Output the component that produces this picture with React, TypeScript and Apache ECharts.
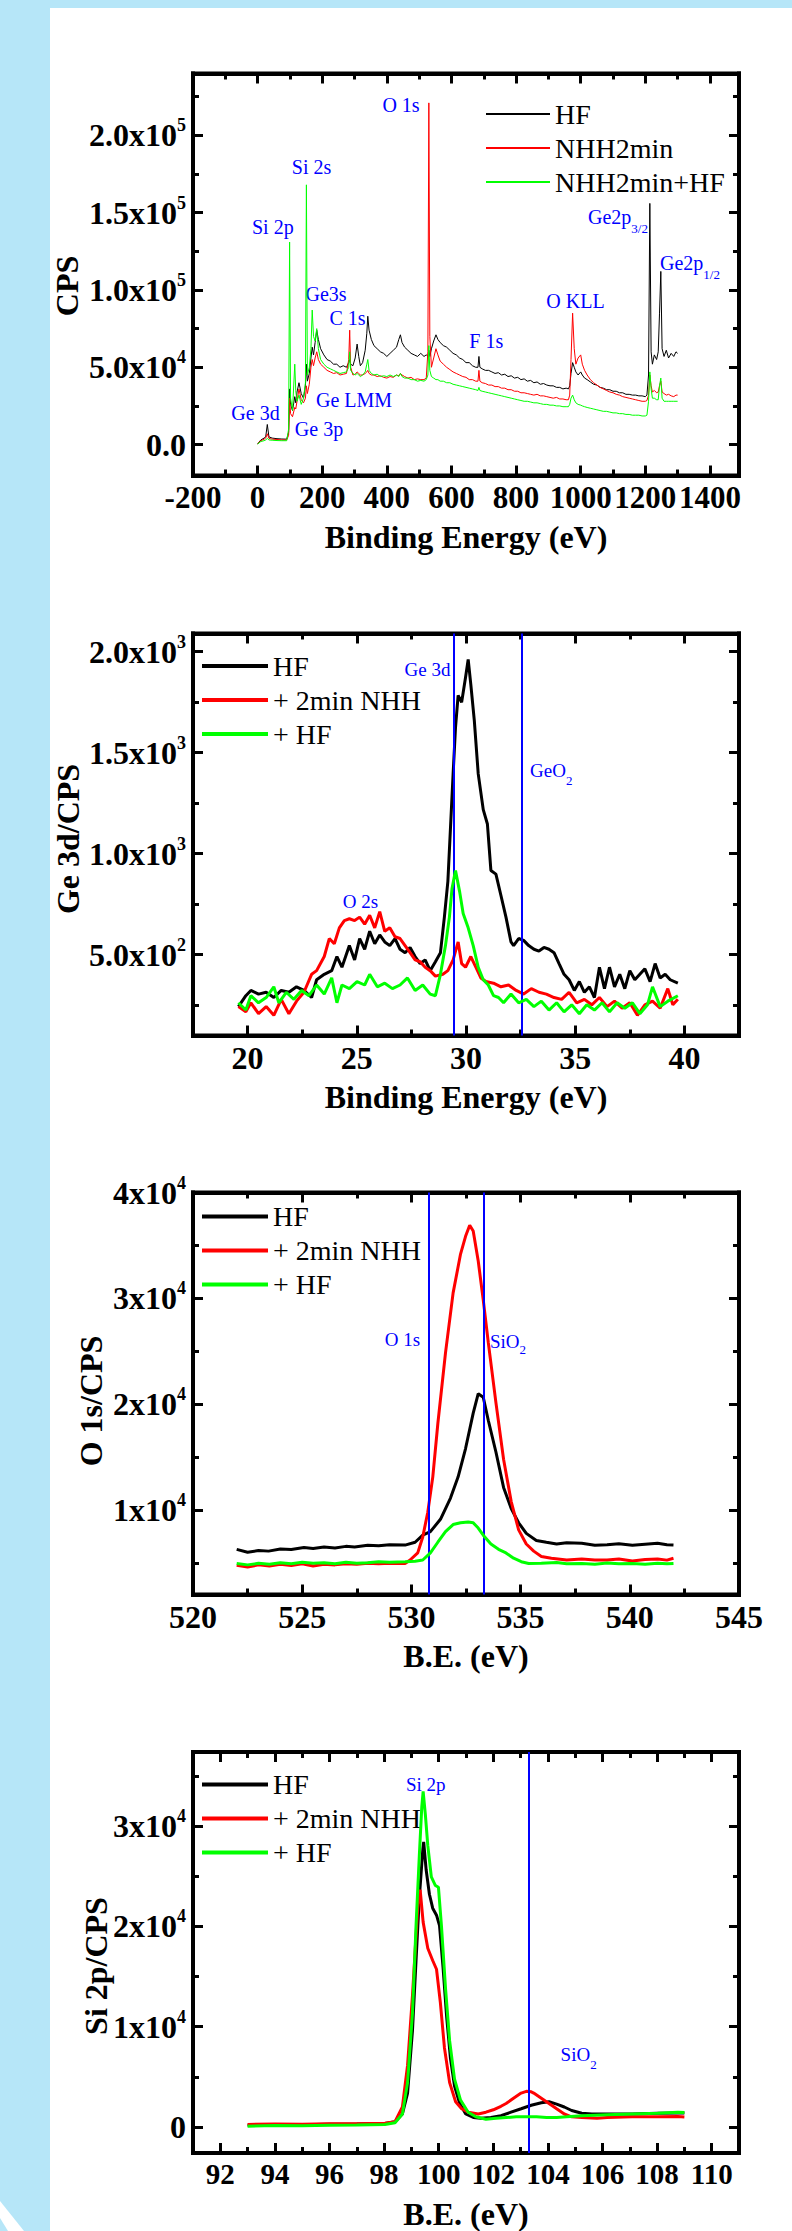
import React, { useEffect, useRef } from "react";
import * as echarts from "echarts";

const FONT = '"Liberation Serif", "Times New Roman", serif';
const BLUE = "#0000ff";
const COLORS = ["#000000", "#ff0000", "#00ff00"];

// ---------- Panel 1: survey (values in thousands of CPS) ----------
const surveyHF = [[0,0.5],[10,3],[20,4.2],[25,5],[30,13],[35,5],[45,4.2],[60,3.8],[75,3.6],[90,3.5],[96,8],[99,36],[102,26],[108,22],[115,31],[118,27],[122,34],[128,40],[135,33],[142,30],[148,38],[151,52],[154,41],[160,46],[165,56],[169,63],[173,58],[178,66],[183,74],[188,68],[195,62],[205,58],[215,55],[225,54],[235,52],[245,52],[255,50],[265,51],[275,50],[282,53],[285,55],[288,52],[295,51],[302,56],[308,65],[313,57],[318,51],[325,53],[333,61],[338,72],[341,83],[345,74],[352,68],[360,64],[370,62],[380,60],[390,59],[400,57],[410,59],[420,61],[430,63],[437,68],[442,71],[447,66],[455,63],[465,61],[475,59],[485,58],[495,57],[505,59],[515,57],[522,58],[527,57],[530,61],[533,57],[538,62],[545,67],[552,71],[558,68],[565,66],[575,64],[585,63],[595,61],[605,59],[615,58],[625,56],[635,55],[645,53],[655,53],[665,51],[675,50],[682,50],[685,57],[688,50],[695,49],[705,48],[715,48],[725,47],[735,46],[745,46.5],[755,45],[765,45.5],[775,44],[785,44.5],[795,43],[805,43.5],[815,42],[825,42.5],[835,41],[845,41.5],[855,40],[865,40.5],[875,39],[885,39.5],[895,38.5],[905,38],[915,38],[925,37],[935,37],[945,36],[955,36.5],[962,36],[966,38],[970,46],[975,53],[980,50],[985,47],[992,45],[1000,47],[1005,45],[1012,43],[1020,42],[1030,40.5],[1040,39],[1050,38.5],[1060,37],[1070,36.5],[1080,35.5],[1090,35.5],[1100,34.5],[1110,34.5],[1120,33.5],[1130,33.5],[1140,32.5],[1150,32.5],[1160,32],[1170,32],[1180,31.5],[1190,31.5],[1200,31],[1205,32],[1210,45],[1214,156],[1218,60],[1222,52],[1228,58],[1235,55],[1240,60],[1244,85],[1248,112],[1252,62],[1258,57],[1265,61],[1272,56],[1280,59],[1288,57],[1295,60],[1300,59]];
const surveyNHH = [[0,0.5],[10,2.5],[20,3.5],[25,4.2],[30,7],[35,4],[45,3.5],[60,3.3],[75,3],[90,3],[96,6],[99,30],[102,20],[108,18],[115,24],[118,23],[122,28],[128,36],[135,29],[142,27],[148,30],[151,38],[154,33],[160,39],[165,50],[169,55],[173,51],[178,56],[183,60],[188,55],[195,52],[205,50],[215,48],[225,47],[235,46],[245,46.5],[255,45],[265,45.5],[275,46],[282,55],[285,74],[288,50],[295,45],[302,45.5],[308,47],[313,46],[318,45],[325,45],[333,46],[338,47],[341,48],[345,46],[352,45],[360,45],[370,44],[380,44.5],[390,43.5],[400,43],[410,44],[420,43.5],[430,45],[437,44.5],[442,46],[447,45],[455,44],[465,43],[475,43.5],[485,42],[495,42.5],[505,42],[515,42],[522,43],[527,60],[530,221],[533,70],[538,50],[545,56],[552,62],[558,58],[565,54],[575,52],[585,50],[595,48.5],[605,47],[615,46],[625,45],[635,44],[645,43.5],[655,42],[665,42],[675,41],[682,41],[685,48],[688,41],[695,40],[705,39.5],[715,38.5],[725,38.5],[735,37.5],[745,37.5],[755,36.5],[765,36.5],[775,35.5],[785,35.5],[795,34.5],[805,34.5],[815,33.5],[825,33.5],[835,33],[845,32.5],[855,32],[865,32.5],[875,31.5],[885,31.5],[895,31],[905,30.5],[915,30],[925,30.5],[935,29.5],[945,29.5],[955,29],[962,29],[966,32],[970,55],[975,85],[980,62],[985,52],[992,56],[1000,58],[1005,52],[1012,48],[1020,45],[1030,42],[1040,40],[1050,38.5],[1060,37],[1070,36],[1080,35],[1090,34],[1100,33.5],[1110,32.5],[1120,32],[1130,31],[1140,30.5],[1150,30],[1160,29.5],[1170,29],[1180,28.5],[1190,28],[1200,28],[1205,28.5],[1210,32],[1214,45],[1218,38],[1222,34],[1228,35],[1235,33.5],[1240,34],[1244,38],[1248,41],[1252,34],[1258,33],[1265,32],[1272,32.5],[1280,31.5],[1288,31],[1295,32],[1300,32]];
const surveyNHHHF = [[0,0.3],[10,2],[20,2.5],[25,3],[30,4],[35,3],[45,2.8],[60,2.6],[75,2.5],[90,2.5],[96,10],[99,131],[102,30],[108,22],[115,52],[118,35],[122,28],[128,32],[135,26],[142,30],[148,40],[151,168],[154,45],[160,50],[165,62],[169,87],[173,70],[178,67],[183,75],[188,62],[195,55],[205,52],[215,50],[225,49],[235,48],[245,47],[255,46],[265,46.5],[275,47],[282,50],[285,60],[288,48],[295,46],[302,45],[308,46],[313,45],[318,44],[325,45],[333,47],[338,52],[341,55],[345,48],[352,46],[360,45],[370,45.5],[380,44],[390,44.5],[400,44],[410,45],[420,44],[430,45],[437,44],[442,46],[447,44],[455,43],[465,43],[475,42],[485,42],[495,41],[505,41.5],[515,41],[522,42],[527,45],[530,64],[533,48],[538,44],[545,43],[552,42],[558,42],[565,41],[575,41],[585,40],[595,40],[605,39],[615,38.5],[625,38],[635,37.5],[645,37],[655,36.5],[665,36],[675,35.5],[682,35],[685,37],[688,35],[695,34.5],[705,34],[715,33.5],[725,33],[735,32.5],[745,32],[755,31.5],[765,31],[775,30.5],[785,30],[795,29.5],[805,29],[815,28.5],[825,28],[835,28],[845,27.5],[855,27],[865,27],[875,26.5],[885,26],[895,26],[905,25.5],[915,25.5],[925,25],[935,25],[945,24.5],[955,24.5],[962,24.5],[966,26],[970,30],[975,32],[980,29],[985,27],[992,26],[1000,25.5],[1005,25],[1012,24.5],[1020,24],[1030,23.5],[1040,23],[1050,22.5],[1060,22],[1070,21.5],[1080,21.5],[1090,21],[1100,20.5],[1110,20.5],[1120,20],[1130,20],[1140,19.5],[1150,19.5],[1160,19],[1170,19],[1180,19],[1190,18.5],[1200,18.5],[1205,19],[1210,28],[1214,47],[1218,36],[1222,30],[1228,30],[1235,29],[1240,29],[1244,38],[1248,43],[1252,30],[1258,28],[1265,28],[1272,28],[1280,28],[1288,28],[1295,28],[1300,28]];

const surveyXTicks = [-200, 0, 200, 400, 600, 800, 1000, 1200, 1400];
const surveyXMinorTicks = [-100, 100, 300, 500, 700, 900, 1100, 1300];
const surveyYTicks = [0, 50000, 100000, 150000, 200000];
const surveyYMinorTicks = [25000, 75000, 125000, 175000, 225000];
const surveyYTickText = [["0.0", ""], ["5.0x10", "4"], ["1.0x10", "5"], ["1.5x10", "5"], ["2.0x10", "5"]];

// ---------- Panel 2: Ge 3d ----------
const ge3dHF = [[19.58,243],[19.92,297],[20.15,323],[20.5,305],[20.85,314],[21.2,288],[21.54,323],[21.89,314],[22.24,341],[22.58,323],[22.93,288],[23.16,376],[23.51,403],[23.85,421],[24.09,491],[24.32,438],[24.66,545],[24.9,474],[25.13,580],[25.36,527],[25.59,616],[25.82,554],[26.05,598],[26.28,563],[26.51,545],[26.75,580],[26.98,527],[27.21,510],[27.44,536],[27.67,491],[27.9,456],[28.13,474],[28.36,421],[28.6,465],[28.83,510],[29.01,686],[29.17,863],[29.29,1129],[29.41,1395],[29.52,1625],[29.64,1784],[29.8,1749],[29.98,1873],[30.1,1962],[30.22,1838],[30.38,1660],[30.56,1395],[30.79,1218],[30.98,1147],[31.14,917],[31.37,899],[31.6,793],[31.83,686],[32.06,563],[32.18,545],[32.41,580],[32.64,571],[32.87,545],[33.11,527],[33.34,518],[33.57,536],[33.8,527],[34.03,510],[34.26,456],[34.49,403],[34.72,376],[34.96,323],[35.19,367],[35.42,314],[35.65,341],[35.88,288],[36.11,438],[36.34,332],[36.57,438],[36.8,341],[37.04,403],[37.27,332],[37.5,421],[37.73,376],[37.96,403],[38.19,430],[38.43,367],[38.66,456],[38.89,385],[39.12,403],[39.35,376],[39.7,359]];
const ge3dNHH = [[19.58,243],[19.92,217],[20.15,262],[20.5,208],[20.85,243],[21.2,200],[21.54,279],[21.89,208],[22.24,270],[22.58,314],[22.93,403],[23.16,421],[23.51,491],[23.74,580],[23.97,554],[24.2,633],[24.43,669],[24.66,678],[24.9,669],[25.13,686],[25.36,651],[25.59,695],[25.82,633],[26.05,713],[26.28,616],[26.51,633],[26.75,589],[26.98,580],[27.21,545],[27.44,510],[27.67,474],[27.9,465],[28.13,438],[28.36,421],[28.6,394],[28.94,403],[29.17,421],[29.41,474],[29.64,563],[29.8,456],[29.98,438],[30.22,491],[30.45,438],[30.68,385],[30.91,367],[31.26,359],[31.6,341],[31.95,350],[32.3,323],[32.64,305],[32.99,332],[33.34,314],[33.68,305],[34.03,288],[34.38,279],[34.72,314],[35.07,262],[35.42,279],[35.76,252],[36.11,288],[36.46,243],[36.8,270],[37.15,235],[37.5,262],[37.85,200],[38.19,252],[38.54,270],[38.89,235],[39.24,332],[39.47,252],[39.7,279]];
const ge3dNHHHF = [[19.58,262],[19.92,226],[20.15,297],[20.5,262],[20.85,288],[21.2,341],[21.43,262],[21.77,314],[22.12,279],[22.47,323],[22.81,297],[23.16,350],[23.51,305],[23.85,385],[24.09,262],[24.32,350],[24.66,332],[25.01,367],[25.36,350],[25.59,403],[25.94,341],[26.28,359],[26.63,332],[26.98,350],[27.32,385],[27.67,323],[28.02,350],[28.36,305],[28.6,297],[28.83,403],[29.06,545],[29.24,686],[29.36,828],[29.52,917],[29.71,811],[29.87,704],[30.1,633],[30.33,545],[30.56,438],[30.79,376],[31.02,350],[31.26,297],[31.49,288],[31.72,262],[32.06,305],[32.41,262],[32.76,279],[33.11,243],[33.45,270],[33.8,226],[34.15,262],[34.49,217],[34.84,252],[35.19,208],[35.53,252],[35.88,226],[36.23,262],[36.57,217],[36.92,262],[37.27,235],[37.62,262],[37.96,208],[38.31,252],[38.54,341],[38.89,243],[39.24,270],[39.7,297]];
const ge3dRefLines = [29.45, 32.55];

const ge3dXTicks = [20, 25, 30, 35, 40];
const ge3dXMinorTicks = [22.5, 27.5, 32.5, 37.5];
const ge3dYTicks = [500, 1000, 1500, 2000];
const ge3dYMinorTicks = [250, 750, 1250, 1750];
const ge3dYTickText = [["5.0x10", "2"], ["1.0x10", "3"], ["1.5x10", "3"], ["2.0x10", "3"]];

// ---------- Panel 3: O 1s ----------
const o1sHF = [[522,6270],[522.5,6000],[523,6150],[523.46,6100],[524,6300],[524.5,6250],[525.08,6440],[525.5,6350],[526,6500],[526.5,6400],[527,6550],[527.4,6500],[528,6650],[528.5,6600],[529,6700],[529.71,6670],[530.17,6940],[530.52,7610],[530.87,7940],[531.33,9110],[531.79,11120],[532.14,13120],[532.48,15800],[532.83,19140],[533.06,20980],[533.29,20650],[533.52,18470],[533.87,15470],[534.22,12120],[534.57,10120],[534.91,8780],[535.26,7780],[535.72,7110],[536.18,6940],[536.65,6770],[537.11,6900],[537.8,6840],[538.4,6650],[538.96,6700],[539.5,6800],[540.12,6650],[540.7,6750],[541.27,6840],[541.7,6700],[542,6670]];
const o1sNHH = [[522,4770],[522.5,4600],[523,4800],[523.5,4700],[524,4850],[524.5,4750],[525,4900],[525.5,4700],[526,4850],[526.5,4800],[527,4900],[527.5,4850],[528,4950],[528.5,4900],[529,4950],[529.71,4930],[529.94,5260],[530.29,5930],[530.52,7440],[530.75,9780],[530.98,13120],[531.21,18140],[531.56,24820],[531.91,30510],[532.25,34180],[532.48,35860],[532.67,36900],[532.83,36360],[533.06,33520],[533.29,29840],[533.52,25830],[533.87,20140],[534.22,14790],[534.57,10780],[534.91,8110],[535.26,6770],[535.6,6100],[535.95,5600],[536.41,5430],[537.11,5260],[537.8,5350],[538.4,5250],[538.96,5260],[539.5,5350],[540.12,5160],[540.7,5300],[541.27,5360],[541.7,5250],[542,5430]];
const o1sNHHHF = [[522,4930],[522.5,4800],[523,4950],[523.5,4850],[524,5000],[524.5,4900],[525,5050],[525.5,4950],[526,5000],[526.5,4900],[527,5050],[527.5,4950],[528,5000],[528.5,5100],[529,5050],[529.71,5100],[530.17,5150],[530.52,5260],[530.87,5930],[531.21,6940],[531.56,7940],[531.91,8610],[532.25,8780],[532.6,8850],[532.83,8780],[533.06,8280],[533.29,7610],[533.64,6770],[533.99,6270],[534.33,5930],[534.68,5430],[535.03,5100],[535.37,4930],[535.95,4950],[536.65,5030],[537.11,4900],[537.8,4930],[538.4,4850],[538.96,4980],[539.5,4900],[540.12,4930],[540.7,4850],[541.27,4950],[541.7,4900],[542,4930]];
const o1sRefLines = [530.8, 533.3];

const o1sXTicks = [520, 525, 530, 535, 540, 545];
const o1sXMinorTicks = [522.5, 527.5, 532.5, 537.5, 542.5];
const o1sYTicks = [10000, 20000, 30000, 40000];
const o1sYMinorTicks = [5000, 15000, 25000, 35000];
const o1sYTickText = [["1x10", "4"], ["2x10", "4"], ["3x10", "4"], ["4x10", "4"]];

// ---------- Panel 4: Si 2p ----------
const si2pHF = [[93,180],[94,250],[95,220],[96,280],[97,300],[98.03,350],[98.4,530],[98.67,1290],[98.86,3380],[99.04,9640],[99.17,16600],[99.29,22860],[99.42,27740],[99.45,28430],[99.54,25650],[99.66,23210],[99.78,21820],[99.92,21120],[100.03,20080],[100.16,15900],[100.29,11030],[100.43,6860],[100.58,4080],[100.77,2340],[100.99,1290],[101.27,940],[101.54,870],[101.91,940],[102.28,1120],[102.65,1470],[103.02,1810],[103.39,2160],[103.76,2410],[104.04,2510],[104.32,2270],[104.6,1990],[104.87,1640],[105.24,1370],[105.61,1290],[106.17,1290],[107.09,1290],[108.02,1360],[108.76,1400],[109,1380]];
const si2pNHH = [[93,250],[94,300],[95,270],[96,320],[97,330],[98.03,380],[98.4,530],[98.67,1990],[98.86,6160],[99.04,13120],[99.23,21820],[99.32,23670],[99.43,20430],[99.6,17820],[99.78,16600],[99.92,15730],[100.06,12430],[100.21,7900],[100.4,4420],[100.62,2510],[100.84,1810],[101.08,1470],[101.45,1290],[101.73,1470],[102.0,1710],[102.28,2060],[102.47,2340],[102.74,2860],[103.02,3380],[103.21,3550],[103.39,3500],[103.48,3380],[103.76,2860],[104.04,2340],[104.32,1810],[104.6,1290],[104.87,1010],[105.24,940],[105.8,870],[106.17,940],[107.09,1010],[108.02,1010],[108.76,1050],[109,1000]];
const si2pNHHHF = [[93,80],[94,150],[95,120],[96,180],[97,200],[98.03,250],[98.4,420],[98.67,1290],[98.86,4420],[99.04,11380],[99.17,20080],[99.29,27040],[99.38,31910],[99.43,33470],[99.51,31210],[99.6,28080],[99.73,24950],[99.88,24080],[99.99,23910],[100.1,20080],[100.25,13820],[100.4,8600],[100.58,4770],[100.8,2680],[101.08,1470],[101.36,1010],[101.73,770],[102.1,870],[102.47,940],[102.84,1010],[103.21,1010],[103.58,1010],[103.95,940],[104.32,940],[104.69,1010],[105.24,1120],[106.17,1220],[107.09,1290],[108.02,1360],[108.76,1470],[109,1450]];
const si2pRefLines = [103.3];

const si2pXTicks = [92, 94, 96, 98, 100, 102, 104, 106, 108, 110];
const si2pXMinorTicks = [93, 95, 97, 99, 101, 103, 105, 107, 109];
const si2pYTicks = [0, 10000, 20000, 30000];
const si2pYMinorTicks = [5000, 15000, 25000, 35000];
const si2pYTickText = [["0", ""], ["1x10", "4"], ["2x10", "4"], ["3x10", "4"]];

const surveyNames = ["HF", "NHH2min", "NHH2min+HF"];
const detailNames = ["HF", "+ 2min NHH", "+ HF"];

export default function App() {
  const ref = useRef<HTMLDivElement>(null);

  useEffect(() => {
    document.body.style.margin = "0";
    if (!ref.current) return;
    const chart = echarts.init(ref.current, undefined, { renderer: "svg" });

    const panels = [
      {
        top: 73.5, height: 402, xMin: -200, xMax: 1490, yMin: -20000, yMax: 240000,
        xTicks: surveyXTicks, xMinor: surveyXMinorTicks, yTicks: surveyYTicks, yMinor: surveyYMinorTicks, yText: surveyYTickText,
        xTitle: "Binding Energy (eV)", names: surveyNames, xLabelSize: 31,
        data: [surveyHF, surveyNHH, surveyNHHHF].map((s) => s.map(([x, y]) => [x, y * 1000])),
        lineWidth: 1, legend: { left: 486, top: 97, itemWidth: 64, itemHeight: 2 }, refLines: [] as number[],
      },
      {
        top: 633.5, height: 402, xMin: 17.5, xMax: 42.5, yMin: 100, yMax: 2090,
        xTicks: ge3dXTicks, xMinor: ge3dXMinorTicks, yTicks: ge3dYTicks, yMinor: ge3dYMinorTicks, yText: ge3dYTickText,
        xTitle: "Binding Energy (eV)", names: detailNames, xLabelSize: 32,
        data: [ge3dHF, ge3dNHH, ge3dNHHHF],
        lineWidth: 3, legend: { left: 202, top: 649, itemWidth: 66, itemHeight: 4 }, refLines: ge3dRefLines,
      },
      {
        top: 1192.5, height: 402, xMin: 520, xMax: 545, yMin: 2000, yMax: 40000,
        xTicks: o1sXTicks, xMinor: o1sXMinorTicks, yTicks: o1sYTicks, yMinor: o1sYMinorTicks, yText: o1sYTickText,
        xTitle: "B.E. (eV)", names: detailNames, xLabelSize: 32,
        data: [o1sHF, o1sNHH, o1sNHHHF],
        lineWidth: 3, legend: { left: 202, top: 1199.5, itemWidth: 66, itemHeight: 4 }, refLines: o1sRefLines,
      },
      {
        top: 1752, height: 403, xMin: 91, xMax: 111, yMin: -2600, yMax: 37400,
        xTicks: si2pXTicks, xMinor: si2pXMinorTicks, yTicks: si2pYTicks, yMinor: si2pYMinorTicks, yText: si2pYTickText,
        xTitle: "B.E. (eV)", names: detailNames, xLabelSize: 29,
        data: [si2pHF, si2pNHH, si2pNHHHF],
        lineWidth: 3, legend: { left: 202, top: 1767.5, itemWidth: 66, itemHeight: 4 }, refLines: si2pRefLines,
      },
    ];

    const tick = (values: number[], length: number) => ({
      show: true, inside: true, length, customValues: values,
      lineStyle: { color: "#000", width: 3 },
    });
    const noLabel = { show: false };
    const frameLine = { show: true, onZero: false, lineStyle: { color: "#000", width: 4, cap: "square" } };
    const hiddenLine = { show: false, onZero: false };

    const grid: any[] = [];
    const xAxis: any[] = [];
    const yAxis: any[] = [];
    const series: any[] = [];
    const legend: any[] = [];

    panels.forEach((p, gi) => {
      grid.push({
        left: 193, top: p.top, width: 546, height: p.height,
        show: true, borderColor: "#000", borderWidth: 4, backgroundColor: "transparent",
      });
      const xBase = {
        type: "value", gridIndex: gi, min: p.xMin, max: p.xMax,
        axisLine: hiddenLine, splitLine: { show: false }, axisLabel: noLabel,
      };
      const yBase = {
        type: "value", gridIndex: gi, min: p.yMin, max: p.yMax,
        axisLine: hiddenLine, splitLine: { show: false }, axisLabel: noLabel,
      };
      const xi = xAxis.length;
      xAxis.push({
        ...xBase, position: "bottom", axisLine: frameLine, axisTick: tick(p.xTicks, 10),
        axisLabel: {
          show: true, customValues: p.xTicks, margin: 6, fontSize: p.xLabelSize, fontWeight: "bold",
          fontFamily: FONT, color: "#000", formatter: (v: number) => String(v),
        },
        name: p.xTitle, nameLocation: "middle", nameGap: 45,
        nameTextStyle: { fontFamily: FONT, fontWeight: "bold", fontSize: 32, color: "#000" },
      });
      xAxis.push({ ...xBase, position: "bottom", axisTick: tick(p.xMinor, 6) });
      xAxis.push({ ...xBase, position: "top", axisLine: frameLine, axisTick: tick(p.xTicks, 10) });
      xAxis.push({ ...xBase, position: "top", axisTick: tick(p.xMinor, 6) });

      const yi = yAxis.length;
      const yTicks = p.yTicks;
      const yText = p.yText;
      yAxis.push({
        ...yBase, position: "left", axisLine: frameLine, axisTick: tick(yTicks, 10),
        axisLabel: {
          show: true, customValues: yTicks, margin: 7,
          formatter: (v: number) => {
            const i = yTicks.findIndex((t) => Math.abs(t - v) < 1e-6);
            if (i < 0) return "";
            const [m, s] = yText[i];
            return s ? `{m|${m}}{s|${s}}` : `{m|${m}}`;
          },
          rich: {
            m: { fontSize: 32, fontWeight: "bold", fontFamily: FONT, color: "#000" },
            s: { fontSize: 18, fontWeight: "bold", fontFamily: FONT, color: "#000", padding: [0, 0, 20, 0] },
          },
        },
      });
      yAxis.push({ ...yBase, position: "left", axisTick: tick(p.yMinor, 6) });
      yAxis.push({ ...yBase, position: "right", axisLine: frameLine, axisTick: tick(yTicks, 10) });
      yAxis.push({ ...yBase, position: "right", axisTick: tick(p.yMinor, 6) });

      p.data.forEach((d, si) => {
        const s: any = {
          type: "line", name: p.names[si], xAxisIndex: xi, yAxisIndex: yi,
          data: d, showSymbol: false, symbol: "none", color: COLORS[si],
          itemStyle: { color: COLORS[si] },
          lineStyle: { color: COLORS[si], width: p.lineWidth },
          clip: true, z: 3 + si, animation: false,
        };
        if (si === 0 && p.refLines.length) {
          s.markLine = {
            silent: true, symbol: ["none", "none"], label: { show: false },
            lineStyle: { color: BLUE, width: 2, type: "solid" },
            emphasis: { disabled: true },
            data: p.refLines.map((v) => ({ xAxis: v })),
            animation: false,
          };
        }
        series.push(s);
      });

      legend.push({
        show: true, orient: "vertical", left: p.legend.left, top: p.legend.top,
        padding: 0, itemGap: 0, itemWidth: p.legend.itemWidth, itemHeight: p.legend.itemHeight,
        icon: "rect", data: p.names, selectedMode: false,
        textStyle: { fontFamily: FONT, fontSize: 28, color: "#000", lineHeight: 34 },
      });
    });

    const plain = (text: string, x: number, y: number, size: number) => ({
      type: "text", x, y, silent: true,
      style: { text, fill: BLUE, fontFamily: FONT, fontSize: size, align: "center", verticalAlign: "middle" },
    });
    const sub = (m: string, s: string, x: number, y: number, size: number, subSize: number, drop: number) => ({
      type: "text", x, y, silent: true,
      style: {
        text: `{m|${m}}{s|${s}}`, align: "left", verticalAlign: "middle",
        rich: {
          m: { fill: BLUE, fontFamily: FONT, fontSize: size },
          s: { fill: BLUE, fontFamily: FONT, fontSize: subSize, padding: [drop, 0, 0, 0] },
        },
      },
    });
    const yTitle = (text: string, x: number, y: number) => ({
      type: "text", x, y, rotation: Math.PI / 2, silent: true,
      style: { text, fill: "#000", fontFamily: FONT, fontWeight: "bold", fontSize: 32, align: "center", verticalAlign: "middle" },
    });

    const graphic: any[] = [
      {
        type: "polygon", silent: true,
        shape: { points: [[0, 2201], [24, 2231], [8, 2231], [0, 2218]] },
        style: { fill: "#ffffff" },
      },
      yTitle("CPS", 67, 286),
      yTitle("Ge 3d/CPS", 68, 839),
      yTitle("O 1s/CPS", 91, 1401),
      yTitle("Si 2p/CPS", 96, 1966),
      plain("Si 2p", 272.8, 226.7, 20),
      plain("Si 2s", 311.5, 167, 20),
      plain("O 1s", 401, 105, 20),
      plain("Ge3s", 326, 294, 20),
      plain("C 1s", 347.5, 317.7, 20),
      plain("F 1s", 486.3, 340.7, 20),
      plain("O KLL", 575.5, 300.7, 20),
      plain("Ge 3d", 255.5, 412.5, 20),
      plain("Ge 3p", 319, 428.7, 20),
      plain("Ge LMM", 354, 400, 20),
      sub("Ge2p", "3/2", 588, 217, 20, 13, 22),
      sub("Ge2p", "1/2", 660, 263, 20, 13, 22),
      plain("Ge 3d", 427.5, 669, 19),
      sub("GeO", "2", 530, 770.7, 19, 13, 20),
      plain("O 2s", 360.5, 901, 19),
      plain("O 1s", 402.5, 1339.6, 19),
      sub("SiO", "2", 490, 1341, 19, 13, 17),
      plain("Si 2p", 425.7, 1784.7, 19),
      sub("SiO", "2", 560.6, 2054, 19, 13, 20),
    ];

    chart.setOption({
      animation: false,
      backgroundColor: "transparent",
      grid, xAxis, yAxis, series, legend, graphic,
    });

    return () => chart.dispose();
  }, []);

  return (
    <div style={{ position: "relative", width: 792, height: 2231, background: "#b6e6f8", overflow: "hidden" }}>
      <div style={{ position: "absolute", left: 50, top: 8, width: 742, height: 2223, background: "#ffffff" }} />
      <div ref={ref} style={{ position: "absolute", left: 0, top: 0, width: 792, height: 2231 }} />
    </div>
  );
}
